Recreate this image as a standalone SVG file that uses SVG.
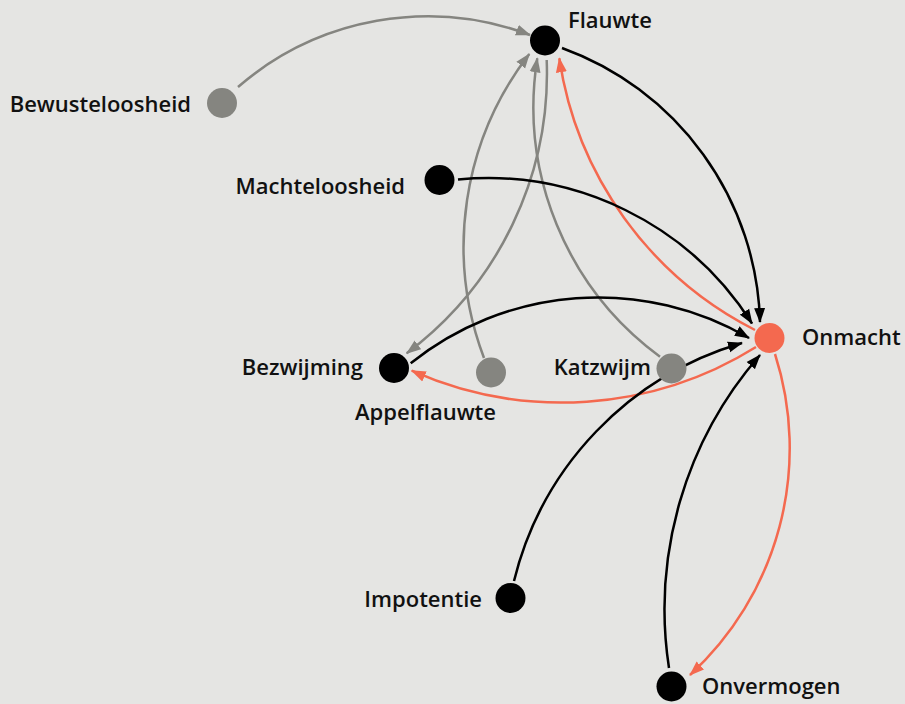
<svg xmlns="http://www.w3.org/2000/svg" width="905" height="704" viewBox="0 0 905 704">
<defs>
<marker id="ag" markerUnits="userSpaceOnUse" markerWidth="16" markerHeight="12" refX="14" refY="6" orient="auto"><path d="M0,0.5 L15,6 L0,11.5 Z" fill="#858580"/></marker>
<marker id="ar" markerUnits="userSpaceOnUse" markerWidth="16" markerHeight="12" refX="14" refY="6" orient="auto"><path d="M0,0.5 L15,6 L0,11.5 Z" fill="#f4694f"/></marker>
<marker id="ak" markerUnits="userSpaceOnUse" markerWidth="16" markerHeight="12" refX="14" refY="6" orient="auto"><path d="M0,0.5 L15,6 L0,11.5 Z" fill="#000"/></marker>
</defs>
<style>
.lbl{font-family:"Open Sans","Noto Sans",sans-serif;font-weight:600;font-size:22px;fill:#111}
.e{fill:none;stroke-width:2.5}
.g{stroke:#858580;marker-end:url(#ag)}
.r{stroke:#f4694f;marker-end:url(#ar)}
.k{stroke:#000;marker-end:url(#ak)}
.nk{fill:#000}.ng{fill:#858580}.nr{fill:#f4694f}
</style>
<rect width="905" height="704" fill="#e5e5e3"/>
<g id="edges">
<path class="e g" d="M238,87 A290,290 0 0 1 530,35"/>
<path class="e g" d="M484,358 A315,315 0 0 1 529.3,54"/>
<path class="e g" d="M546.7,60 A350,350 0 0 1 406.7,353.3"/>
<path class="e g" d="M660,356.7 A310,310 0 0 1 537.3,58.3"/>
<path class="e r" d="M755,330 A365,365 0 0 1 559.3,58.3"/>
<path class="e r" d="M756,347 A368,368 0 0 1 411.7,370.7"/>
<path class="e r" d="M775,354 A308,308 0 0 1 690,675"/>
<path class="e k" d="M562,48 A300,300 0 0 1 760,322"/>
<path class="e k" d="M458,179.5 A313,313 0 0 1 752,323.5"/>
<path class="e k" d="M410.7,363.3 A300,300 0 0 1 749,338"/>
<path class="e k" d="M514,581 A330,330 0 0 1 742,343"/>
<path class="e k" d="M669,668 A387,387 0 0 1 760,355"/>
</g>
<g id="node-flauwte"><circle class="nk" cx="545" cy="40.5" r="15"/><text class="lbl" x="568" y="28">Flauwte</text></g>
<g id="node-bewusteloosheid"><circle class="ng" cx="222" cy="103" r="15"/><text class="lbl" x="191" y="111.5" text-anchor="end">Bewusteloosheid</text></g>
<g id="node-machteloosheid"><circle class="nk" cx="439.5" cy="180" r="15"/><text class="lbl" x="405" y="194" text-anchor="end">Machteloosheid</text></g>
<g id="node-onmacht"><circle class="nr" cx="769.5" cy="338" r="15"/><text class="lbl" x="802" y="345">Onmacht</text></g>
<g id="node-bezwijming"><circle class="nk" cx="394" cy="368" r="15"/><text class="lbl" x="363" y="375" text-anchor="end">Bezwijming</text></g>
<g id="node-appelflauwte"><circle class="ng" cx="491" cy="372.5" r="15"/><text class="lbl" x="425.5" y="420" text-anchor="middle">Appelflauwte</text></g>
<g id="node-katzwijm"><circle class="ng" cx="671.5" cy="368.5" r="15"/><text class="lbl" x="651" y="375" text-anchor="end">Katzwijm</text></g>
<g id="node-impotentie"><circle class="nk" cx="510.5" cy="598" r="15"/><text class="lbl" x="482" y="606.5" text-anchor="end">Impotentie</text></g>
<g id="node-onvermogen"><circle class="nk" cx="671.5" cy="686.5" r="15"/><text class="lbl" x="702" y="694">Onvermogen</text></g>
</svg>
